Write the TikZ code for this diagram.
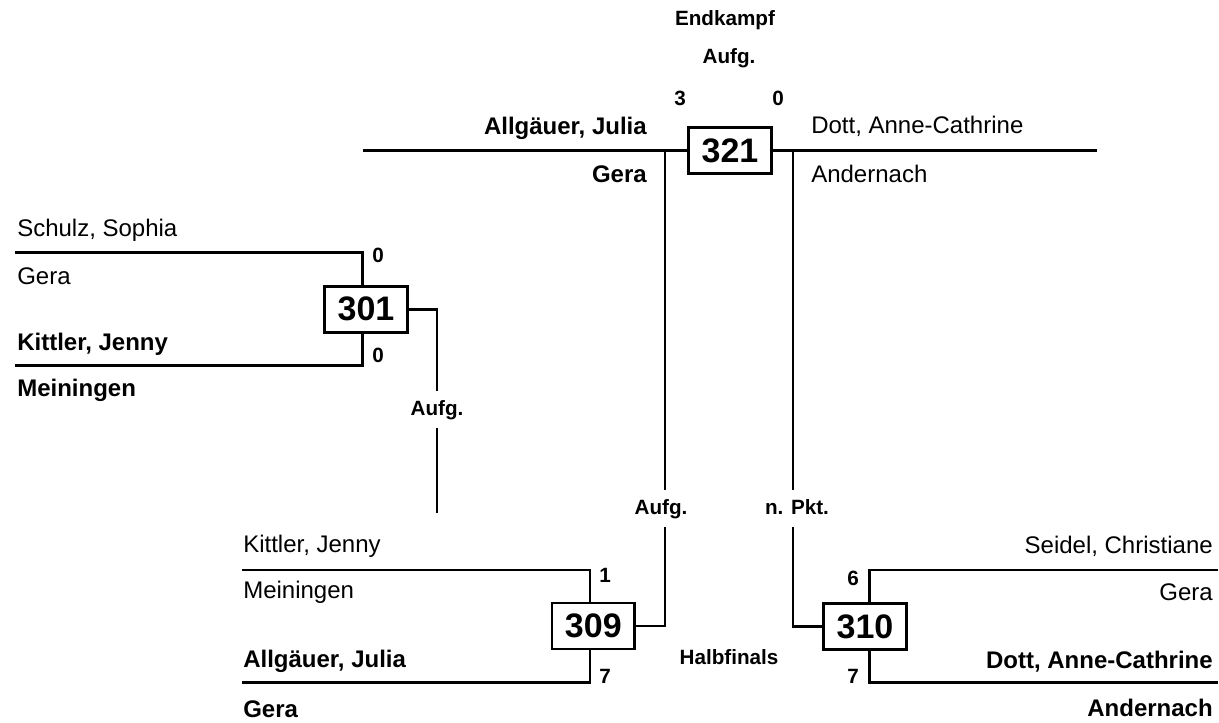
\documentclass[tikz,border=0pt]{standalone}
\usepackage{fontspec}
\setmainfont{Liberation Sans}
\usetikzlibrary{positioning,calc}

\tikzset{
  box/.style={draw, line width=2pt, fill=white, minimum width=62pt, minimum height=34.5pt,
    inner sep=0pt, font=\fontsize{25.5}{28}\selectfont\bfseries},
  nm/.style={inner sep=0pt, font=\fontsize{18}{20}\selectfont},
  nmb/.style={inner sep=0pt, font=\fontsize{18}{20}\selectfont\bfseries},
  sc/.style={inner sep=0pt, font=\fontsize{15.5}{17}\selectfont\bfseries},
  gaplbl/.style={sc, inner xsep=2pt, inner ysep=6.5pt, text height=11.5pt, text depth=3.3pt},
  brk/.style={line width=2pt}
}

\begin{document}
\begin{tikzpicture}[x=0.75pt, y=-0.75pt]
    \useasboundingbox (0,0) rectangle (1219,723);

    % Endkampf (321)
    \node[sc, anchor=base] (ek) at (725,26) {Endkampf};
    \node[sc, anchor=base] (ekres) at (729,64) {Aufg.};
    \node[sc, anchor=base] (ek3) at (680,106) {3};
    \node[sc, anchor=base] (ek0) at (778,106) {0};
    \coordinate (fl) at (363,150.5);
    \coordinate (fr) at (1097,150.5);
    \coordinate (jl) at (665,150.5);
    \coordinate (jr) at (793,150.5);
    \node[box] (b321) at (730,150.5) {321};
    \draw[brk] (fl) -- (b321.west);
    \draw[brk] (b321.east) -- (fr);
    \node[nmb, anchor=base east] (f1n) at (647,134.5) {Allgäuer, Julia};
    \node[nmb, anchor=base east] (f1c) at (647,183) {Gera};
    \node[nm, anchor=base west] (f2n) at (811,133.5) {Dott, Anne-Cathrine};
    \node[nm, anchor=base west] (f2c) at (811,183) {Andernach};

    % Kampf 301
    \coordinate (a1) at (15,252.7);
    \coordinate (a2) at (15,365.7);
    \coordinate (v301) at (362.7,309.3);
    \node[box] (b301) at (366,309.3) {301};
    \draw[brk] (a1) -| (v301 |- b301.north);
    \draw[brk] (a2) -| (v301 |- b301.south);
    \node[nm, anchor=base west] (a1n) at (17,237) {Schulz, Sophia};
    \node[nm, anchor=base west] (a1c) at (17,285) {Gera};
    \node[nmb, anchor=base west] (a2n) at (17,350) {Kittler, Jenny};
    \node[nmb, anchor=base west] (a2c) at (17,396) {Meiningen};
    \node[sc, anchor=base] (a1p) at (378,263) {0};
    \node[sc, anchor=base] (a2p) at (378,362.5) {0};
    \node[gaplbl, anchor=base] (r301) at (437,415) {Aufg.};
    \coordinate (e301) at (437,513);
    \draw[brk] (b301.east) -| (r301.north);
    \draw[brk] (r301.south) -- (e301);

    % Kampf 309
    \coordinate (h1) at (242,570);
    \coordinate (h2) at (242,682.7);
    \coordinate (v309) at (590,626);
    \node[box] (b309) at (593.3,626) {309};
    \draw[brk] (h1) -| (v309 |- b309.north);
    \draw[brk] (h2) -| (v309 |- b309.south);
    \node[nm, anchor=base west] (h1n) at (243,552) {Kittler, Jenny};
    \node[nm, anchor=base west] (h1c) at (243,598) {Meiningen};
    \node[nmb, anchor=base west] (h2n) at (243,667) {Allgäuer, Julia};
    \node[nmb, anchor=base west] (h2c) at (243,717) {Gera};
    \node[sc, anchor=base] (h1p) at (605,582) {1};
    \node[sc, anchor=base] (h2p) at (605,683) {7};

    % Kampf 310
    \coordinate (k1) at (1218,570);
    \coordinate (k2) at (1218,682.7);
    \coordinate (v310) at (869.3,626.5);
    \node[box] (b310) at (865,626.5) {310};
    \draw[brk] (k1) -| (v310 |- b310.north);
    \draw[brk] (k2) -| (v310 |- b310.south);
    \node[nm, anchor=base east] (k1n) at (1213,553.5) {Seidel, Christiane};
    \node[nm, anchor=base east] (k1c) at (1213,600) {Gera};
    \node[nmb, anchor=base east] (k2n) at (1213,668) {Dott, Anne-Cathrine};
    \node[nmb, anchor=base east] (k2c) at (1213,716) {Andernach};
    \node[sc, anchor=base] (k1p) at (853,585) {6};
    \node[sc, anchor=base] (k2p) at (853,683) {7};

    % Halbfinals -> Endkampf
    \node[sc, anchor=base] (hf) at (729,664) {Halbfinals};
    \node[gaplbl, anchor=base] (r309) at (661,514) {Aufg.};
    \node[gaplbl, anchor=base] (r310) at (797,514) {n. Pkt.};
    \draw[brk] (jl) -- (jl |- r309.north);
    \draw[brk] (jl |- r309.south) |- (b309.east);
    \draw[brk] (jr) -- (jr |- r310.north);
    \draw[brk] (jr |- r310.south) |- (b310.west);
\end{tikzpicture}
\end{document}
